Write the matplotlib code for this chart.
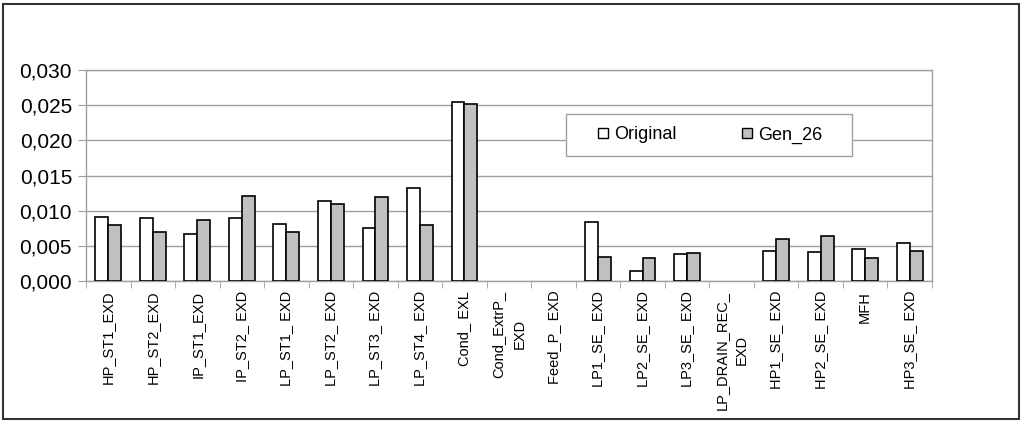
import matplotlib.pyplot as plt
import numpy as np
from matplotlib.patches import Rectangle
from matplotlib.ticker import FuncFormatter, MultipleLocator

plt.rcParams['font.family'] = ['Liberation Sans', 'DejaVu Sans']

categories = ['HP_ST1_EXD', 'HP_ST2_EXD', 'IP_ST1_EXD', 'IP_ST2_ EXD', 'LP_ST1_ EXD',
              'LP_ST2_ EXD', 'LP_ST3_ EXD', 'LP_ST4_ EXD', 'Cond_ EXL', 'Cond_ExtrP_\nEXD',
              'Feed_P_ EXD', 'LP1_SE_ EXD', 'LP2_SE_ EXD', 'LP3_SE_ EXD', 'LP_DRAIN_REC_\nEXD',
              'HP1_SE_ EXD', 'HP2_SE_ EXD', 'MFH', 'HP3_SE_ EXD']
original = [0.00905, 0.0089, 0.00667, 0.0089, 0.0081, 0.01138, 0.0076, 0.0132, 0.02538, 0.0,
            0.0, 0.00838, 0.00143, 0.0038, 0.0, 0.00429, 0.00414, 0.00452, 0.00538]
gen_26 = [0.00795, 0.00695, 0.00871, 0.0121, 0.00695, 0.0109, 0.01195, 0.00795, 0.02514, 0.0,
          0.0, 0.00348, 0.00329, 0.00395, 0.0, 0.006, 0.00633, 0.00329, 0.00429]

fig = plt.figure(figsize=(10.24, 4.25), dpi=100)
W, H = 1024, 425
ax = fig.add_axes([86 / W, (H - 281) / H, (932 - 86) / W, (281 - 70) / H])

x = np.arange(len(categories))
w = 0.29
b1 = ax.bar(x - w / 2, original, w, color='white', edgecolor='black', linewidth=1.2,
            label='Original', zorder=3)
b2 = ax.bar(x + w / 2, gen_26, w, color='#c0c0c0', edgecolor='black', linewidth=1.2,
            label='Gen_26', zorder=3)
# empty categories show no bar at all
for p in list(b1) + list(b2):
    if p.get_height() == 0:
        p.set_visible(False)

ax.set_xlim(-0.5, len(categories) - 0.5)
ax.set_ylim(0, 0.030)
ax.yaxis.set_major_locator(MultipleLocator(0.005))
ax.yaxis.set_major_formatter(FuncFormatter(lambda v, p: '{:.3f}'.format(v).replace('.', ',')))
ax.grid(axis='y', color='#a0a0a0', linewidth=1, zorder=0)

ax.set_xticks(x)
ax.set_xticklabels(categories, rotation=90, va='top', ha='center',
                   multialignment='center', linespacing=1.6, fontsize=10.5)
ax.set_xticks(np.arange(len(categories) + 1) - 0.5, minor=True)
ax.tick_params(axis='x', which='major', length=0, pad=7)
ax.tick_params(axis='x', which='minor', length=5, color='#a0a0a0', direction='out')
ax.tick_params(axis='y', length=6, color='#a0a0a0', labelsize=15, pad=4)

for s in ax.spines.values():
    s.set_color('#a0a0a0')
    s.set_linewidth(1)

# legend box drawn separately so the padding matches
fig.patches.append(Rectangle((566 / W, 1 - 156 / H), (852 - 566) / W, (156 - 114) / H,
                             transform=fig.transFigure, facecolor='white', edgecolor='#a0a0a0',
                             linewidth=1, zorder=5))
leg = fig.legend(loc='center', bbox_to_anchor=(710 / W, 1 - 135 / H),
                 ncol=2, fontsize=13, frameon=False,
                 handlelength=0.55, handleheight=0.55, handletextpad=0.35, columnspacing=3.6)
leg.set_zorder(6)
for h in leg.legend_handles:
    h.set_linewidth(1)

fig.patches.append(Rectangle((3 / W, 1 - 419 / H), (1019 - 3) / W, (419 - 4) / H,
                             transform=fig.transFigure, fill=False, edgecolor='#333333',
                             linewidth=1.5))

fig.savefig('out.png', dpi=100)
